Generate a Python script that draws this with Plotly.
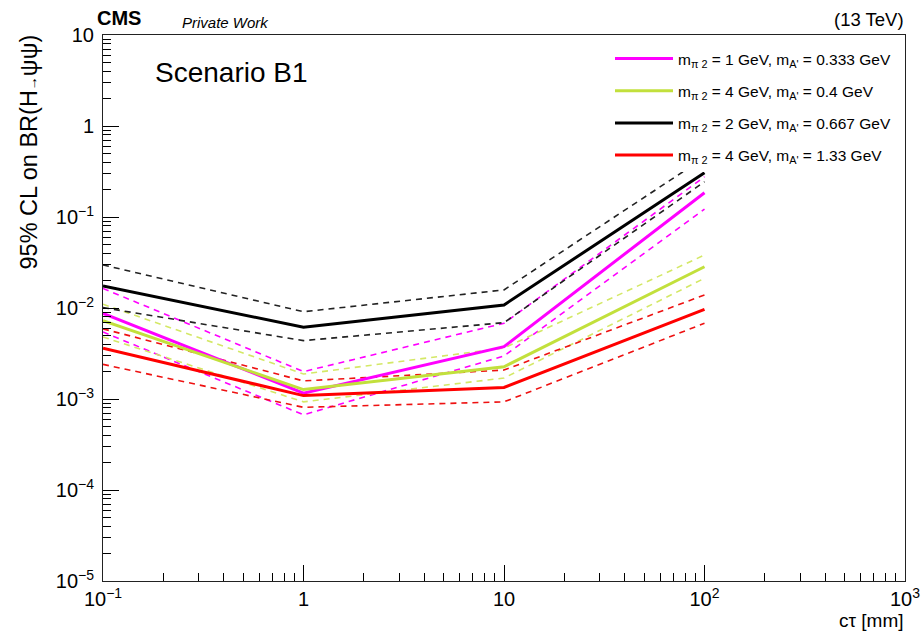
import plotly.graph_objects as go

# Lifetime points (c*tau in mm)
ctau = [0.1, 1, 10, 100]

# 95% CL upper limits on BR(H -> psi psi): expected, +1 sigma, -1 sigma
mag_exp = [0.00875, 0.00116, 0.00376, 0.185]
mag_up = [0.0164, 0.0020, 0.0068, 0.277]
mag_dn = [0.00545, 0.00067, 0.00297, 0.122]

yel_exp = [0.00725, 0.00127, 0.00226, 0.0284]
yel_up = [0.0110, 0.00188, 0.00363, 0.0382]
yel_dn = [0.0048, 0.00093, 0.0017, 0.0212]

blk_exp = [0.0175, 0.00614, 0.0108, 0.307]
blk_up = [0.0297, 0.0091, 0.0158, 0.45]
blk_dn = [0.0101, 0.00438, 0.0069, 0.244]

red_exp = [0.00361, 0.00109, 0.00134, 0.00966]
red_up = [0.0059, 0.00158, 0.00208, 0.0139]
red_dn = [0.0024, 0.00081, 0.00093, 0.0068]

labels = [
    "m<sub>π 2</sub> = 1 GeV, m<sub>A'</sub> = 0.333 GeV",
    "m<sub>π 2</sub> = 4 GeV, m<sub>A'</sub> = 0.4 GeV",
    "m<sub>π 2</sub> = 2 GeV, m<sub>A'</sub> = 0.667 GeV",
    "m<sub>π 2</sub> = 4 GeV, m<sub>A'</sub> = 1.33 GeV",
]

x_ticks = [0.1, 1, 10, 100, 1000]
x_ticktext = ["10<sup>−1</sup>", "1", "10", "10<sup>2</sup>", "10<sup>3</sup>"]
y_ticks = [1e-5, 1e-4, 1e-3, 1e-2, 1e-1, 1, 10]
y_ticktext = ["10<sup>−5</sup>", "10<sup>−4</sup>", "10<sup>−3</sup>", "10<sup>−2</sup>",
              "10<sup>−1</sup>", "1", "10"]

series = [
    (mag_exp, mag_up, mag_dn, "#ff00ff", "#ff00ff", labels[0]),
    (yel_exp, yel_up, yel_dn, "#c2e03c", "#d4e866", labels[1]),
    (blk_exp, blk_up, blk_dn, "#000000", "#222222", labels[2]),
    (red_exp, red_up, red_dn, "#ff0000", "#ee1111", labels[3]),
]

fig = go.Figure()

# dashed +-1 sigma bands first, so the expected lines sit on top
for i, (exp, up, dn, col, dcol, lab) in enumerate(series):
    for band in (up, dn):
        fig.add_trace(go.Scatter(
            x=ctau, y=band, mode="lines", showlegend=False,
            line=dict(color=dcol, width=1.6, dash="6px,5px"),
            hoverinfo="skip"))

for i, (exp, up, dn, col, dcol, lab) in enumerate(series):
    fig.add_trace(go.Scatter(
        x=ctau, y=exp, mode="lines", name=lab, legendgroup=f"g{i}",
        line=dict(color=col, width=3)))

W, H = 923, 631
L, R, T, B = 103, 18, 35, 50
pw, ph = W - L - R, H - T - B


def px(x):
    return (x - L) / pw


def py(y):
    return (H - B - y) / ph


font = "Liberation Sans, Arial, sans-serif"

fig.update_layout(
    width=W, height=H,
    margin=dict(l=L, r=R, t=T, b=B, autoexpand=False),
    paper_bgcolor="white", plot_bgcolor="white",
    font=dict(family=font, color="black"),
    xaxis=dict(
        type="log", range=[-1, 3], automargin=False,
        tickvals=x_ticks, ticktext=x_ticktext,
        ticks="inside", ticklen=16, tickwidth=1, tickcolor="black",
        showline=True, linecolor="#222222", linewidth=1, mirror=True,
        showgrid=False, zeroline=False,
        tickfont=dict(size=20, family=font),
        minor=dict(ticks="inside", ticklen=8, tickcolor="black",
                   tickvals=[m * 10.0 ** e for e in range(-1, 3) for m in range(2, 10)],
                   showgrid=False),
    ),
    yaxis=dict(
        type="log", range=[-5, 1], automargin=False,
        tickvals=y_ticks, ticktext=y_ticktext,
        ticks="inside", ticklen=16, tickwidth=1, tickcolor="black",
        showline=True, linecolor="#222222", linewidth=1, mirror=True,
        showgrid=False, zeroline=False,
        tickfont=dict(size=20, family=font),
        ticklabelstandoff=4,
        minor=dict(ticks="inside", ticklen=8, tickcolor="black",
                   tickvals=[m * 10.0 ** e for e in range(-5, 1) for m in range(2, 10)],
                   showgrid=False),
    ),
    legend=dict(
        x=px(610), y=py(42), xanchor="left", yanchor="top",
        bgcolor="white", borderwidth=0,
        font=dict(size=15.5, family=font),
        tracegroupgap=9, itemwidth=58,
    ),
    showlegend=True,
)

ann = [
    dict(text="<b>CMS</b>", x=px(95), y=py(18), xanchor="left", yanchor="middle",
         font=dict(size=20)),
    dict(text="<i>Private Work</i>", x=px(180), y=py(22), xanchor="left", yanchor="middle",
         font=dict(size=15)),
    dict(text="(13 TeV)", x=px(906), y=py(19), xanchor="right", yanchor="middle",
         font=dict(size=18.5)),
    dict(text="Scenario B1", x=px(153), y=py(72), xanchor="left", yanchor="middle",
         font=dict(size=28)),
    dict(text="cτ [mm]", x=px(906), y=py(620), xanchor="right", yanchor="middle",
         font=dict(size=19)),
    dict(text="95% CL on BR(H<span style='font-size:14px'>→</span>ψψ)", x=px(28), y=py(33),
         xanchor="center", yanchor="top", textangle=-90, font=dict(size=23.5)),
]
for a in ann:
    a.update(xref="paper", yref="paper", showarrow=False)
    fig.add_annotation(**a)

fig.write_html("out.html")
